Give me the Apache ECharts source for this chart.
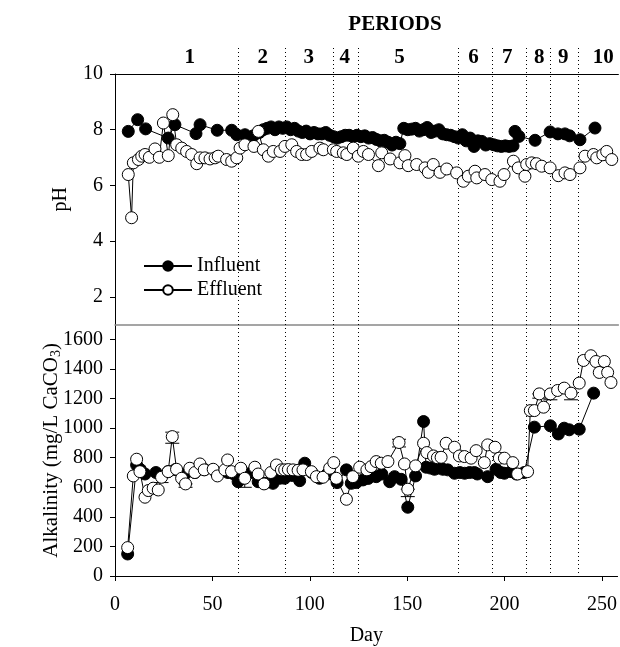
<!DOCTYPE html>
<html>
<head>
<meta charset="utf-8">
<script src="https://cdn.jsdelivr.net/npm/echarts@6/dist/echarts.min.js"></script>
<style>html,body{margin:0;padding:0;background:#fff;}#c{width:620px;height:647px;}</style>
</head>
<body>
<div id="c"></div>
<script>
// ---------------- DATA ----------------
const dayTicks = [0, 50, 100, 150, 200, 250];
const pHTicks = [2, 4, 6, 8, 10];
const alkTicks = [0, 200, 400, 600, 800, 1000, 1200, 1400, 1600];

const periodBoundaries = [63, 87.5, 112, 124.5, 176, 193.5, 211, 223.5, 237.5];
const periodLabels = ['1', '2', '3', '4', '5', '6', '7', '8', '9', '10'];
const periodCenters = [38.4, 75.9, 99.4, 117.9, 146, 184, 201.4, 217.8, 230.1, 250.6];

const pHInfluent = [
  [6.8,7.94],[11.6,8.36],[15.7,8.03],[27.3,7.70],[30.7,8.18],[41.5,7.86],[43.6,8.18],[52.4,7.98],
  [59.8,7.98],[62.4,7.82],[66.6,7.82],[70.9,7.78],[74,7.9],[76,8.0],[78,8.05],[80,8.1],[82,8.0],
  [84,8.1],[86,8.05],[88,8.1],[90,8.0],[92,8.05],[94,7.95],[96,7.9],[98,7.95],[100,7.85],[102,7.9],
  [104,7.85],[106,7.85],[108,7.9],[110,7.8],[112,7.75],[114,7.7],[116,7.75],[118,7.8],[120,7.8],
  [122,7.75],[124,7.8],[126,7.75],[128,7.78],[130,7.7],[132,7.72],[134,7.65],[136,7.6],[138,7.62],
  [140,7.55],[142,7.45],[144,7.55],[146,7.5],[148,8.05],[150,8.0],[152,8.02],[154,8.05],[156,7.95],
  [158,8.0],[160,8.08],[162,7.9],[164,7.95],[166,8.0],[168,7.85],[170,7.82],[172,7.8],[174,7.75],
  [176,7.7],[178,7.82],[180,7.6],[182,7.7],[184,7.4],[186,7.6],[188,7.58],[190,7.45],[192,7.5],
  [194,7.46],[196,7.42],[198,7.4],[200,7.42],[202,7.4],[204,7.42],[205,7.94],[207,7.76],[215.3,7.62],
  [223,7.92],[227,7.85],[230.6,7.85],[233,7.78],[238.3,7.64],[246,8.06]
];
const pHEffluent = [
  [6.8,6.39],[8.5,4.84],[9.4,6.81],[12,6.93],[13.7,7.05],[15.4,7.11],[17.6,7.01],[20.5,7.31],
  [22.7,7.01],[24.8,8.24],[27.3,7.07],[29.6,8.54],[31.6,7.46],[34.2,7.34],[36.7,7.22],[39.3,7.11],
  [41.9,6.78],[43.6,6.99],[46.1,6.99],[48.7,6.95],[51.3,6.99],[52.9,7.05],[57.2,6.93],[59.8,6.87],
  [62.4,6.99],[64.1,7.34],[66.6,7.46],[71.2,7.40],[73.5,7.94],[76,7.28],[78.6,7.05],[81.1,7.22],
  [84.6,7.22],[87.1,7.40],[90.6,7.46],[93.1,7.22],[95.7,7.11],[98.2,7.11],[100.8,7.22],[105,7.34],
  [106.8,7.28],[111.9,7.28],[113.6,7.22],[117,7.17],[118.8,7.11],[122.1,7.34],[124.7,7.05],
  [127.3,7.22],[129.9,7.11],[135,6.71],[136.7,7.17],[141,6.95],[146,6.81],[148.6,7.07],[150.3,6.71],
  [154.6,6.75],[158.9,6.63],[160.6,6.47],[163.1,6.75],[166.6,6.47],[170,6.59],[175.1,6.45],
  [178.5,6.15],[181.1,6.33],[184.5,6.51],[185.4,6.27],[189.6,6.39],[193.1,6.21],[197.3,6.15],
  [199.4,6.39],[204.2,6.87],[206.7,6.63],[210.1,6.33],[211,6.75],[213.6,6.81],[216,6.78],
  [218.7,6.69],[223,6.63],[227.2,6.35],[230.6,6.45],[233.2,6.39],[238.3,6.63],[240.9,7.05],
  [245.2,7.11],[246.9,6.99],[250,7.1],[252,7.22],[254.6,6.93]
];
const alkInfluent = [
  [6.5,149],[11.1,751],[13,720],[15.4,690],[21,700],[27.3,706],[31,720],[36,690],[41,700],[46,720],
  [52,700],[58,700],[61,690],[63.2,638],[66,680],[70,700],[73.5,638],[76.9,627],[81.1,627],[84.6,661],
  [87.1,661],[91,680],[94.8,645],[97.4,763],[101,700],[105,661],[109,690],[114,632],[118.8,718],
  [121.3,627],[123.9,632],[127.3,650],[130,660],[134.1,672],[137,690],[141,638],[143.5,672],
  [146.9,654],[150.3,465],[154.3,677],[158.4,1045],[159.7,736],[162,730],[164,722],[166,730],
  [168.3,722],[170.8,718],[174.3,695],[177,700],[179.5,695],[182,700],[184.5,700],[186,690],
  [191.3,672],[195.6,722],[198,700],[199.9,695],[203.3,706],[206,690],[210.1,700],[215.3,1007],
  [223.5,1016],[227.6,961],[230.6,1000],[233.2,989],[238.3,993],[245.7,1237]
];
const alkEffluent = [
  [6.5,192],[9.4,677],[11.1,790],[12.8,706],[15.4,533],[17.1,578],[19.6,594],[22.2,582],[23.9,668],
  [27.3,706],[29.4,943],[31.6,722],[34.2,661],[36.2,623],[38.4,729],[41,700],[43.6,758],[45.8,718],
  [50.4,722],[52.6,677],[56.4,718],[57.8,785],[59.8,706],[64.6,729],[66.6,661],[71.8,736],[73.5,690],
  [76.5,623],[80,700],[82.9,751],[85.4,718],[87.1,718],[89,720],[91.4,718],[94,715],[96.5,718],
  [100.8,706],[103.4,672],[106.8,668],[110.2,729],[112.3,767],[113.6,661],[118.8,519],[122.1,672],
  [125.6,736],[129.3,718],[131.5,740],[134.1,774],[136.7,763],[140.1,774],[145.8,903],[148.6,758],
  [150.3,587],[154.3,745],[158.4,898],[160.1,835],[163.5,812],[165.5,800],[167.4,803],[170,898],
  [174.3,871],[176.8,812],[179.4,808],[182.8,797],[185.4,848],[189.6,767],[191.3,887],[195.1,871],
  [197.3,797],[199.9,797],[204.2,767],[206.7,690],[211.8,706],[213.2,1119],[215.3,1119],[217.8,1232],
  [220,1142],[223.5,1232],[227.2,1255],[230.6,1271],[234.1,1237],[238.3,1305],[240.5,1458],
  [244.3,1490],[246.9,1451],[248.6,1377],[251.2,1451],[252.9,1377],[254.6,1309]
];
// error bars: [day, low, high]
const alkEffluentErr = [
  [23.9,632,668],[29.4,898,973],[36.2,600,623],[66.6,600,661],[145.8,873,925],[150.3,537,587],
  [217.8,1203,1232],[223.5,1192,1232],[234.1,1192,1237]
];

// ---------------- CHART ----------------
const FONT = 'Liberation Serif';
const chart = echarts.init(document.getElementById('c'), null, {renderer: 'canvas'});
const GL = 115, GW = 503.4;
const symbolSize = 12;

function errSeries(data, xi, yi) {
  return {
    type: 'custom', name: 'err', xAxisIndex: xi, yAxisIndex: yi, z: 3,
    data: data,
    renderItem: function (params, api) {
      const x = api.value(0);
      const lo = api.coord([x, api.value(1)]);
      const hi = api.coord([x, api.value(2)]);
      const w = 7;
      const st = {stroke: '#000', lineWidth: 1};
      return {type: 'group', children: [
        {type: 'line', shape: {x1: lo[0], y1: lo[1], x2: hi[0], y2: hi[1]}, style: st},
        {type: 'line', shape: {x1: lo[0]-w, y1: lo[1], x2: lo[0]+w, y2: lo[1]}, style: st},
        {type: 'line', shape: {x1: hi[0]-w, y1: hi[1], x2: hi[0]+w, y2: hi[1]}, style: st}
      ]};
    }
  };
}

function lineSeries(name, data, filled, xi, yi) {
  return {
    type: 'line', name: name, data: data, xAxisIndex: xi, yAxisIndex: yi,
    symbol: 'circle', symbolSize: symbolSize, showAllSymbol: true,
    z: filled ? 4 : 5,
    lineStyle: {color: '#000', width: 1},
    itemStyle: {color: filled ? '#000' : '#fff', borderColor: '#000', borderWidth: 1},
    emphasis: {disabled: true}, animation: false
  };
}

const xBase = {
  type: 'value', min: 0, max: 258, splitLine: {show: false},
  axisLine: {lineStyle: {color: '#000', width: 1}},
  axisTick: {show: false}, axisLabel: {show: false}
};
const plain = function (v) { return String(v); };

const option = {
  animation: false,
  backgroundColor: '#fff',
  grid: [
    {left: GL, width: GW, top: 74, height: 250.7},
    {left: GL, width: GW, top: 324.7, height: 251.3}
  ],
  legend: {
    data: ['Influent', 'Effluent'],
    orient: 'vertical', left: 138, top: 251, itemGap: 4,
    itemWidth: 48, itemHeight: 12,
    textStyle: {fontFamily: FONT, fontSize: 20, color: '#000'},
    selectedMode: false
  },
  xAxis: [
    Object.assign({}, xBase, {gridIndex: 0, position: 'bottom', axisLine: {lineStyle: {color: '#888', width: 1.5}}}),
    Object.assign({}, xBase, {gridIndex: 0, position: 'top'}),
    Object.assign({}, xBase, {
      gridIndex: 1, position: 'bottom',
      axisTick: {show: true, inside: false, length: 5, lineStyle: {color: '#000'}, customValues: dayTicks},
      axisLabel: {show: true, margin: 19, fontFamily: FONT, fontSize: 20, color: '#000', customValues: dayTicks, formatter: plain},
      name: 'Day', nameLocation: 'middle', nameGap: 50, nameMoveOverlap: false,
      nameTextStyle: {fontFamily: FONT, fontSize: 20, color: '#000'}
    })
  ],
  yAxis: [
    {
      type: 'value', gridIndex: 0, min: 1, max: 10, splitLine: {show: false},
      axisLine: {show: true, lineStyle: {color: '#000'}},
      axisTick: {show: true, inside: false, length: 5, lineStyle: {color: '#000'}, customValues: pHTicks},
      axisLabel: {margin: 12, fontFamily: FONT, fontSize: 20, color: '#000', customValues: pHTicks, formatter: plain},
      name: 'pH', nameLocation: 'middle', nameGap: 44, nameMoveOverlap: false,
      nameTextStyle: {fontFamily: FONT, fontSize: 20, color: '#000'}
    },
    {
      type: 'value', gridIndex: 1, min: 0, max: 1700, splitLine: {show: false},
      axisLine: {show: true, lineStyle: {color: '#000'}},
      axisTick: {show: true, inside: false, length: 5, lineStyle: {color: '#000'}, customValues: alkTicks},
      axisLabel: {margin: 12, fontFamily: FONT, fontSize: 20, color: '#000', customValues: alkTicks, formatter: plain},
      name: '{n|Alkalinity (mg/L CaCO}{s|3}{n|)}', nameLocation: 'middle', nameGap: 52, nameMoveOverlap: false,
      nameTextStyle: {
        fontFamily: FONT, fontSize: 21, color: '#000',
        rich: {
          n: {fontFamily: FONT, fontSize: 21, color: '#000', lineHeight: 24},
          s: {fontFamily: FONT, fontSize: 14, color: '#000', verticalAlign: 'bottom', lineHeight: 24}
        }
      }
    }
  ],
  series: [
    lineSeries('Influent', pHInfluent, true, 0, 0),
    lineSeries('Effluent', pHEffluent, false, 0, 0),
    lineSeries('Influent', alkInfluent, true, 2, 1),
    errSeries(alkEffluentErr, 2, 1),
    lineSeries('Effluent', alkEffluent, false, 2, 1)
  ]
};
chart.setOption(option);

// period boundaries and labels, positioned through the axis scale
const yBottom = chart.convertToPixel({yAxisIndex: 1}, 0);
const graphics = [];
periodBoundaries.forEach(function (d) {
  const x = Math.round(chart.convertToPixel({xAxisIndex: 2}, d)) + 0.5;
  graphics.push({
    type: 'line', silent: true, z: 1,
    shape: {x1: x, y1: 48, x2: x, y2: yBottom},
    style: {stroke: '#000', lineWidth: 1, lineDash: [1, 3]}
  });
});
periodLabels.forEach(function (t, i) {
  const x = chart.convertToPixel({xAxisIndex: 2}, periodCenters[i]);
  graphics.push({
    type: 'text', silent: true, x: x, y: 58,
    style: {text: t, fontFamily: FONT, fontSize: 21, fontWeight: 'bold', fill: '#000', align: 'center', verticalAlign: 'middle'}
  });
});
graphics.push({
  type: 'text', silent: true, x: 395, y: 25,
  style: {text: 'PERIODS', fontFamily: FONT, fontSize: 21, fontWeight: 'bold', fill: '#000', align: 'center', verticalAlign: 'middle'}
});
chart.setOption({graphic: graphics});
</script>
</body>
</html>
